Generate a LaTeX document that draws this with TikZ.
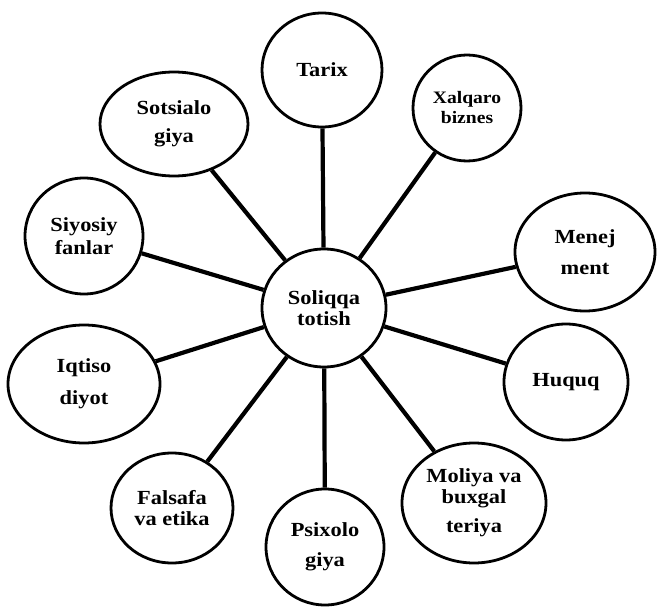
\documentclass[tikz,border=0pt]{standalone}
\usepackage{fontspec}
\setmainfont{Liberation Serif}[FakeStretch=1.12]
\usetikzlibrary{shapes.geometric}

\begin{document}
\begin{tikzpicture}[x=1pt, y=-1pt,
  bubble/.style={ellipse, draw, line width=2.8pt, inner sep=0pt, align=center,
    font=\bfseries\fontsize{20}{21}\selectfont},
  spoke/.style={line width=4.2pt}]
  \useasboundingbox (0,0) rectangle (657,607);

  \node[bubble, minimum width=124pt, minimum height=118pt] (soliq) at (324,308) {Soliqqa\\totish};

  \node[bubble, minimum width=120pt, minimum height=114pt] (tarix) at (322,70) {Tarix};
  \node[bubble, minimum width=148pt, minimum height=104pt] (sotsio) at (174,124) {Sotsialo\\[7pt]giya};
  \node[bubble, minimum width=118pt, minimum height=116pt] (siyosiy) at (84,236) {Siyosiy\\[2pt]fanlar};
  \node[bubble, minimum width=108pt, minimum height=106pt,
    font=\bfseries\fontsize{17.5}{20}\selectfont] (xalqaro) at (467,108) {Xalqaro\\biznes};
  \node[bubble, minimum width=140pt, minimum height=118pt] (menej) at (585,252) {Menej\\[10pt]ment};
  \node[bubble, minimum width=124pt, minimum height=116pt] (huquq) at (566,382) {Huquq};
  \node[bubble, minimum width=144pt, minimum height=120pt] (moliya) at (474,503) {Moliya va\\buxgal\\[8pt]teriya};
  \node[bubble, minimum width=118pt, minimum height=116pt] (psix) at (325,547) {Psixolo\\[9pt]giya};
  \node[bubble, minimum width=122pt, minimum height=110pt] (falsafa) at (172,508) {Falsafa\\va etika};
  \node[bubble, minimum width=152pt, minimum height=118pt] (iqtiso) at (84,384) {Iqtiso\\[11pt]diyot};

  \draw[spoke] (soliq) -- (tarix);
  \draw[spoke] (soliq) -- (sotsio);
  \draw[spoke] (soliq) -- (siyosiy);
  \draw[spoke] (soliq) -- (xalqaro);
  \draw[spoke] (soliq) -- (menej);
  \draw[spoke] (soliq) -- (huquq);
  \draw[spoke] (soliq) -- (moliya);
  \draw[spoke] (soliq) -- (psix);
  \draw[spoke] (soliq) -- (falsafa);
  \draw[spoke] (soliq) -- (iqtiso);
\end{tikzpicture}
\end{document}
